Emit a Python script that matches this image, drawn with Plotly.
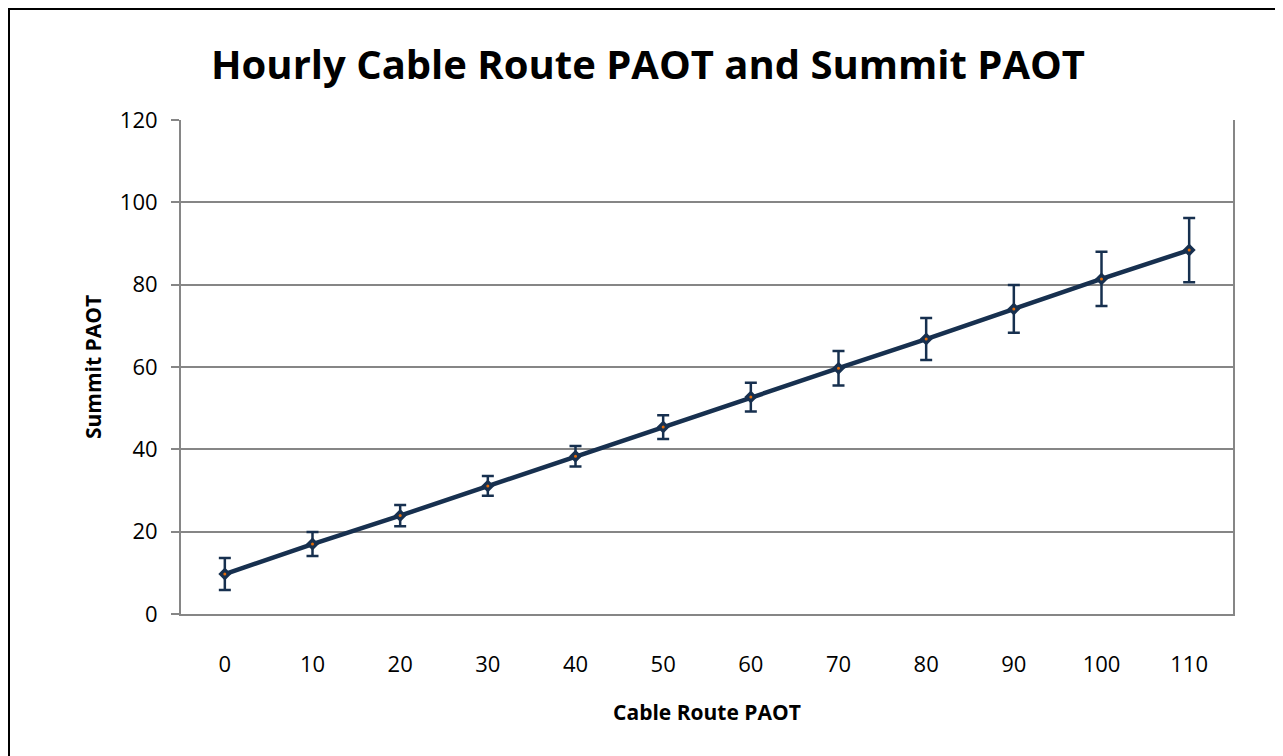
import plotly.graph_objects as go

categories = ["0", "10", "20", "30", "40", "50", "60", "70", "80", "90", "100", "110"]
summit_paot = [9.7, 17.0, 23.9, 31.1, 38.3, 45.4, 52.7, 59.7, 66.8, 74.1, 81.4, 88.4]
error_size = [3.9, 2.9, 2.6, 2.4, 2.5, 2.9, 3.5, 4.2, 5.1, 5.8, 6.6, 7.8]
y_ticks = [0, 20, 40, 60, 80, 100, 120]

navy = "#17304f"
grid = "#868686"
font_family = "'Open Sans', Lato, sans-serif"

fig = go.Figure()
fig.add_trace(go.Scatter(
    x=categories, y=summit_paot, mode="lines+markers",
    line=dict(color=navy, width=4.5),
    marker=dict(symbol="diamond", size=10, color=navy),
    error_y=dict(type="data", array=error_size, visible=True,
                 color=navy, thickness=2.5, width=6),
    showlegend=False, hoverinfo="x+y",
))
fig.add_trace(go.Scatter(
    x=categories, y=summit_paot, mode="markers",
    marker=dict(symbol="circle", size=3, color="#e36c0a"),
    showlegend=False, hoverinfo="skip",
))

# page body has an 8px margin, so the figure starts at (8, 8) in the window
W, H = 1275, 748
L, R, T, B = 173, 50, 112, 142
pw, ph = W - L - R, H - T - B

def px_to_paper_x(px):
    return (px - L) / pw

def px_to_paper_y(py):
    return (H - B - py) / ph

fig.add_shape(type="path", xref="paper", yref="paper",
              path=f"M {px_to_paper_x(0.5)} {px_to_paper_y(H + 20)} L {px_to_paper_x(0.5)} {px_to_paper_y(0.5)} L {px_to_paper_x(W + 20)} {px_to_paper_y(0.5)}",
              line=dict(color="black", width=3), layer="above")

fig.update_layout(
    width=W, height=H,
    margin=dict(l=L, r=R, t=T, b=B),
    paper_bgcolor="white", plot_bgcolor="white",
    font=dict(family=font_family, color="black"),
    title=dict(text="<b>Hourly Cable Route PAOT and Summit PAOT</b>",
               x=(648 - 8) / W, xanchor="center", y=1 - (65 - 8) / H, yanchor="middle",
               font=dict(size=40, family=font_family, color="black")),
    xaxis=dict(
        type="category", range=[-0.5, 11.5],
        showline=True, linecolor=grid, linewidth=2, mirror=False,
        showgrid=False, ticks="", ticklabelstandoff=30,
        tickfont=dict(size=22, color="black"),
        title=dict(text="<b>Cable Route PAOT</b>", font=dict(size=21, color="black"), standoff=28),
    ),
    yaxis=dict(
        range=[0, 120], tickvals=y_ticks,
        showline=True, linecolor=grid, linewidth=2, mirror=True,
        showgrid=True, gridcolor=grid, gridwidth=2,
        ticks="outside", ticklen=8, tickcolor=grid, tickwidth=2,
        tickfont=dict(size=22, color="black"), ticklabelstandoff=9,
        zeroline=False,
        title=dict(text="<b>Summit PAOT</b>", font=dict(size=21, color="black"), standoff=12),
    ),
)

fig.write_html("out.html")
